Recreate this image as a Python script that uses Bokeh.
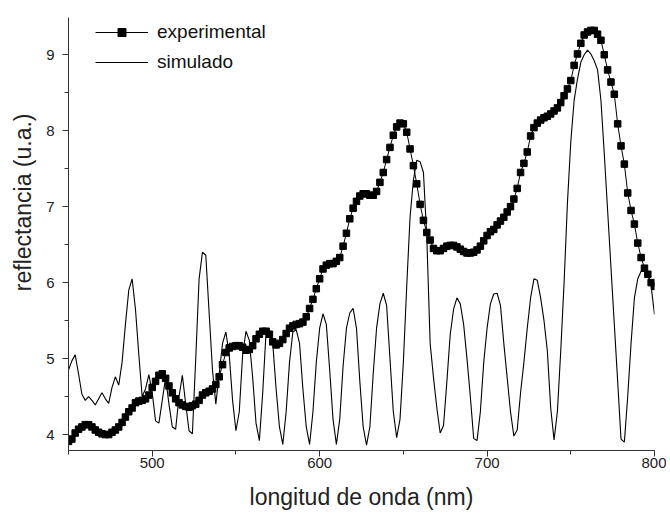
import numpy as np
from bokeh.plotting import figure
from bokeh.models import Range1d, SingleIntervalTicker, Legend, LegendItem, ColumnDataSource, Title
from bokeh.embed import file_html
from bokeh.resources import INLINE

# wavelength grid (nm), 2 nm steps
wavelength = list(range(450, 801, 2))

experimental = [
    3.91, 3.94, 4.02, 4.07, 4.10, 4.13, 4.13, 4.10, 4.06, 4.03,
    4.01, 4.00, 4.00, 4.03, 4.06, 4.10, 4.16, 4.23, 4.30, 4.35,
    4.42, 4.44, 4.45, 4.47, 4.52, 4.62, 4.70, 4.78, 4.80, 4.74,
    4.64, 4.55, 4.47, 4.42, 4.39, 4.37, 4.36, 4.38, 4.40, 4.45,
    4.52, 4.55, 4.57, 4.60, 4.66, 4.76, 4.92, 5.08, 5.14, 5.16,
    5.17, 5.17, 5.15, 5.11, 5.12, 5.17, 5.26, 5.32, 5.36, 5.36,
    5.32, 5.22, 5.18, 5.20, 5.25, 5.33, 5.40, 5.43, 5.45, 5.46,
    5.48, 5.55, 5.66, 5.78, 5.92, 6.05, 6.18, 6.23, 6.25, 6.25,
    6.28, 6.33, 6.48, 6.65, 6.84, 6.98, 7.07, 7.14, 7.17, 7.17,
    7.15, 7.15, 7.20, 7.32, 7.45, 7.62, 7.78, 7.94, 8.05, 8.10,
    8.09, 7.98, 7.76, 7.54, 7.30, 7.03, 6.82, 6.66, 6.56, 6.45,
    6.42, 6.42, 6.45, 6.48, 6.49, 6.49, 6.47, 6.44, 6.41, 6.39,
    6.39, 6.40, 6.43, 6.48, 6.55, 6.62, 6.67, 6.70, 6.76, 6.81,
    6.86, 6.93, 7.00, 7.10, 7.24, 7.45, 7.57, 7.72, 7.93, 8.04,
    8.10, 8.14, 8.17, 8.19, 8.22, 8.26, 8.30, 8.37, 8.46, 8.55,
    8.66, 8.86, 9.01, 9.15, 9.26, 9.30, 9.32, 9.32, 9.27, 9.19,
    9.00, 8.80, 8.64, 8.48, 8.09, 7.80, 7.56, 7.18, 6.95, 6.77,
    6.52, 6.33, 6.19, 6.11, 6.00, 5.95,
]

simulado = [
    4.85, 4.97, 5.05, 4.80, 4.53, 4.45, 4.50, 4.45, 4.39, 4.47,
    4.55, 4.47, 4.41, 4.62, 4.76, 4.65, 4.95, 5.45, 5.90, 6.05,
    5.65, 5.05, 4.50, 4.60, 4.79, 4.55, 4.18, 4.15, 4.45, 4.75,
    4.40, 4.10, 4.07, 4.50, 4.78, 4.40, 4.05, 4.01, 5.00, 6.05,
    6.40, 6.36, 5.60, 4.85, 4.40, 4.80, 5.20, 5.35, 5.05, 4.45,
    4.05, 4.30, 5.05, 5.36, 5.24, 4.75, 4.15, 3.92, 4.55, 5.35,
    5.38, 5.20, 4.60, 4.10, 3.87, 4.30, 4.95, 5.35, 5.38, 5.20,
    4.60, 4.10, 3.87, 4.30, 4.95, 5.40, 5.59, 5.45, 4.85, 4.20,
    3.87, 4.20, 4.90, 5.40, 5.60, 5.66, 5.40, 4.70, 4.10, 3.86,
    4.10, 4.80, 5.40, 5.72, 5.86, 5.70, 5.00, 4.30, 3.96, 4.20,
    4.95, 5.95, 6.86, 7.35, 7.61, 7.59, 7.45, 6.60, 5.20, 4.75,
    4.35, 4.02, 4.12, 4.70, 5.32, 5.65, 5.80, 5.72, 5.45, 5.00,
    4.50, 3.95, 3.92, 4.30, 4.95, 5.40, 5.72, 5.85, 5.86, 5.70,
    5.20, 4.75, 4.30, 3.98, 4.06, 4.55, 4.95, 5.40, 5.80, 6.05,
    6.03, 5.80, 5.50, 5.10, 4.35, 3.93, 4.30, 5.10, 6.00, 7.05,
    7.85, 8.40, 8.68, 8.90, 9.00, 9.06, 9.01, 8.92, 8.80, 8.40,
    7.70, 6.95, 6.20, 5.45, 4.70, 3.94, 3.90, 4.50, 5.20, 5.80,
    6.05, 6.15, 6.16, 6.10, 5.95, 5.58,
]

x_label = "longitud de onda (nm)"
y_label = "reflectancia (u.a.)"
series_names = ["experimental", "simulado"]

FONT = "Liberation Sans"

p = figure(frame_width=586, frame_height=433, output_backend="svg", toolbar_location=None,
           x_range=Range1d(450, 800), y_range=Range1d(3.79, 9.49),
           min_border_left=68, min_border_right=12, min_border_top=17, min_border_bottom=58)
p.outline_line_color = None
p.xgrid.visible = False
p.ygrid.visible = False
p.background_fill_color = "white"
p.border_fill_color = "white"

src = ColumnDataSource(dict(x=wavelength, e=experimental, s=simulado))

exp_line = p.line("x", "e", source=src, line_color="black", line_width=1)
exp_pts = p.scatter("x", "e", source=src, marker="square", size=6.5,
                    fill_color="black", line_color="black")
sim_line = p.line("x", "s", source=src, line_color="black", line_width=1.1)

p.xaxis.ticker = SingleIntervalTicker(interval=100, num_minor_ticks=2)
p.yaxis.ticker = SingleIntervalTicker(interval=1, num_minor_ticks=2)

for ax in (p.xaxis[0], p.yaxis[0]):
    ax.axis_line_color = "#333333"
    ax.major_tick_line_color = "#333333"
    ax.minor_tick_line_color = "#333333"
    ax.major_tick_in = 0
    ax.major_tick_out = 6
    ax.minor_tick_in = 0
    ax.minor_tick_out = 4
    ax.major_label_text_font = FONT
    ax.major_label_text_font_size = "15px"
    ax.major_label_text_color = "#222222"
    ax.axis_label_text_font = FONT
    ax.axis_label_text_font_size = "23px"
    ax.axis_label_text_font_style = "normal"
    ax.axis_label_text_color = "#222222"

p.xaxis.axis_label = x_label
p.xaxis.major_label_standoff = 1
p.yaxis.major_label_standoff = 8
p.xaxis.axis_label_standoff = 13

# y-axis title, placed a little above the frame centre as in the original
ytitle = Title(text=y_label, align="right", offset=96, standoff=12,
               vertical_align="top",
               text_font=FONT, text_font_size="23px", text_font_style="normal",
               text_color="#222222")
p.add_layout(ytitle, "left")

legend = Legend(items=[LegendItem(label=series_names[0], renderers=[exp_line, exp_pts]),
                       LegendItem(label=series_names[1], renderers=[sim_line])],
                location=(27, 377), orientation="vertical",
                border_line_color=None, background_fill_alpha=0,
                label_text_font=FONT, label_text_font_size="19px",
                label_text_color="#111111",
                glyph_width=53, glyph_height=20, label_height=20,
                spacing=8, padding=0, margin=0, label_standoff=9)
p.add_layout(legend, "center")

open("out.html", "w").write(file_html(p, INLINE))
